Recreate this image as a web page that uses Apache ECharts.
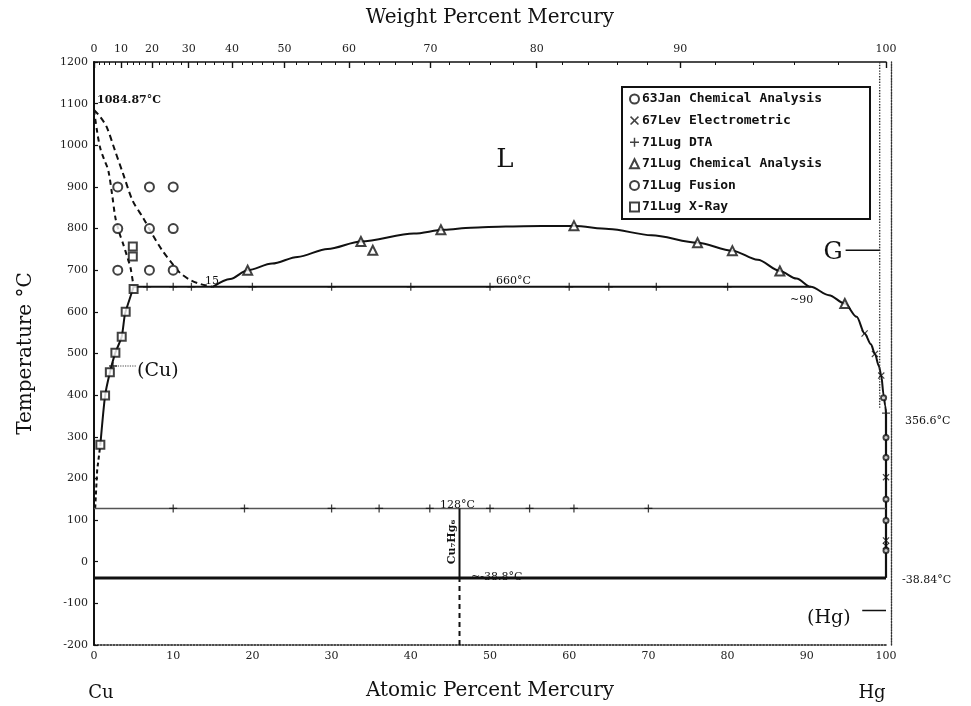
<!DOCTYPE html>
<html><head><meta charset="utf-8">
<script src="https://cdn.jsdelivr.net/npm/echarts@6/dist/echarts.min.js"></script>
<style>html,body{margin:0;padding:0;background:#fff}#c{width:971px;height:706px}</style>
</head><body><div id="c"></div>
<script>
// ---- axes / ticks ----
const atTicks = [0,10,20,30,40,50,60,70,80,90,100];
const tempTicks = [-200,-100,0,100,200,300,400,500,600,700,800,900,1000,1100,1200];
const wtTicks = [0,10,20,30,40,50,60,70,80,90,100];

// ---- phase boundaries (atomic % Hg, °C) ----
const liquidus = [[0,1084.87],[0.8,1068],[1.6,1044],[2.6,990],[3.7,930],[4.9,866],[6.2,826],[7.4,785],[8.6,748],[10,713],[10.9,693],[12.2,676],[13.4,667],[15,660]];
const solidus = [[0,1084.87],[0.4,1032],[0.8,992],[1.3,965],[1.8,940],[2.3,880],[2.7,826],[3.2,790],[3.7,762],[4.2,732],[4.6,707],[5.0,660]];
const solvus = [[0.8,281],[1.4,399],[2.0,454],[2.7,502],[3.5,540],[3.9,594],[4.4,625],[5.0,660]];
const solvusLow = [[0.15,128],[0.4,220],[0.8,281]];
const dome = [[15,660],[17.2,679],[19.4,700],[22.5,716],[25.7,732],[29.5,751],[33.7,769],[40.4,788],[44.2,797],[47.6,802],[52,805],[56.5,806],[60.6,806],[65,799],[70.4,784],[76.2,766],[80.6,747],[83.8,725],[86.6,698],[88.7,680],[90.5,660],[92.8,640],[94.8,620],[96.3,588],[97.3,548],[98.1,522],[98.6,499],[99.1,470],[99.4,447],[99.7,400],[99.9,375],[100,356.6]];
const hgLiquid = [[100,356.6],[100,-38.84]];
const monotectic = [[5.0,660],[90.5,660]];
const peritectic = [[0,128],[100,128]];
const eutectic = [[0,-38.84],[100,-38.84]];
const compoundSolid = [[46.15,-38.84],[46.15,128]];
const compoundDashed = [[46.15,-200],[46.15,-38.84]];
const gasBoundary = [[99.2,1200],[99.2,370]];
const gArrow = [[94.9,748],[99.2,748]];
const hgArrow = [[97.0,-117],[100,-117]];
const cuArrow = [[2.4,470],[5.3,470]];

// ---- experimental points ----
const jan63 = [[99.7,394],[100,298],[100,250],[100,150],[100,99],[100,27]];
const lev67 = [[97.3,548],[98.6,499],[99.4,447],[100,203],[100,51],[100,38]];
const lugDTA = [[6.7,660],[10,660],[12.3,660],[20,660],[30,660],[40,660],[50,660],[60,660],[65,660],[71,660],[80,660],
  [10,128],[19,128],[30,128],[36,128],[42.4,128],[50,128],[55,128],[60.6,128],[70,128],[100,356.6],[2.4,470]];
const lugChem = [[19.4,700],[33.7,769],[35.2,748],[43.8,797],[60.6,807],[76.2,766],[80.6,747],[86.6,698],[94.8,620]];
const lugFusion = [[3,900],[7,900],[10,900],[3,800],[7,800],[10,800],[3,700],[7,700],[10,700]];
const lugXray = [[4.9,757],[4.9,733],[5.0,655],[4.0,600],[3.5,540],[2.7,502],[2.0,455],[1.4,399],[0.8,281]];

const legendNames = ['63Jan Chemical Analysis','67Lev Electrometric','71Lug DTA','71Lug Chemical Analysis','71Lug Fusion','71Lug X-Ray'];

// weight % -> atomic % (Cu 63.546, Hg 200.59)
function atFromWt(w){ const h=w/200.59, c=(100-w)/63.546; return 100*h/(h+c); }
const topMajor = wtTicks.map(atFromWt);
const topMinor = []; for (let w=2; w<100; w+=2){ if (w%10) topMinor.push(atFromWt(w)); }

const INK = '#111';
const SERIF = '"DejaVu Serif", "Liberation Serif", serif';
const X_PATH = 'path://M0,1.2L1.2,0L5,3.8L8.8,0L10,1.2L6.2,5L10,8.8L8.8,10L5,6.2L1.2,10L0,8.8L3.8,5Z';
const PLUS_PATH = 'path://M4.2,0H5.8V4.2H10V5.8H5.8V10H4.2V5.8H0V4.2H4.2Z';

function line(data, opts){
  return Object.assign({type:'line', data, symbol:'none', silent:true, animation:false, z:3,
    lineStyle:{color:INK, width:2}}, opts||{});
}
function pts(name, data, symbol, size, bw){
  return {type:'scatter', name, data, symbol, symbolSize:size, z:6, silent:true,
    itemStyle:{color:INK, borderColor:INK, borderWidth:bw||0}};
}

const chart = echarts.init(document.getElementById('c'), null, {renderer:'canvas'});
chart.setOption({
  animation:false,
  backgroundColor:'#fff',
  grid:{left:94, right:85, top:62, bottom:53},
  xAxis:[
    {type:'value', min:0, max:100, interval:10, position:'bottom',
      name:'Atomic Percent Mercury', nameLocation:'middle', nameGap:36,
      nameTextStyle:{fontFamily:SERIF, fontSize:20, color:INK},
      axisLine:{show:true, onZero:false, lineStyle:{color:INK, width:1.6, type:'dotted'}},
      axisTick:{show:false}, splitLine:{show:false},
      axisLabel:{fontFamily:SERIF, fontSize:11, color:'#222', margin:6, formatter:v=>String(v)}},
    {type:'value', min:0, max:100, position:'top',
      name:'Weight Percent Mercury', nameLocation:'middle', nameGap:34,
      nameTextStyle:{fontFamily:SERIF, fontSize:20, color:INK},
      axisLine:{show:true, onZero:false, lineStyle:{color:INK, width:1.6}},
      axisTick:{show:true, inside:true, length:6, customValues:topMajor, lineStyle:{color:INK, width:1.4}},
      axisLabel:{show:true, customValues:topMajor, fontFamily:SERIF, fontSize:11, color:'#222', margin:7,
        formatter:function(v){ let i=0,b=1e9; topMajor.forEach((p,k)=>{const d=Math.abs(p-v); if(d<b){b=d;i=k;}}); return String(wtTicks[i]); }},
      splitLine:{show:false}},
    {type:'value', min:0, max:100, position:'top',
      axisLine:{show:false, onZero:false},
      axisTick:{show:true, inside:true, length:3, customValues:topMinor, lineStyle:{color:INK, width:1}},
      axisLabel:{show:false}, splitLine:{show:false}}
  ],
  yAxis:[
    {type:'value', min:-200, max:1200, interval:100, position:'left',
      name:'Temperature °C', nameLocation:'middle', nameGap:58, nameRotate:90,
      nameTextStyle:{fontFamily:SERIF, fontSize:20, color:INK},
      axisLine:{show:true, onZero:false, lineStyle:{color:INK, width:2}},
      axisTick:{show:true, inside:true, length:4, lineStyle:{color:INK, width:1.2}},
      axisLabel:{fontFamily:SERIF, fontSize:11, color:'#222', margin:6, formatter:v=>String(v)},
      splitLine:{show:false}},
    {type:'value', min:-200, max:1200, position:'right', offset:5,
      axisLine:{show:true, onZero:false, lineStyle:{color:'#333', width:1.4, type:'dotted'}},
      axisTick:{show:false}, axisLabel:{show:false}, splitLine:{show:false}}
  ],
  legend:{
    data:legendNames, orient:'vertical', left:622, top:87,
    backgroundColor:'#fff', borderColor:INK, borderWidth:2, borderRadius:0,
    padding:[5,4,5,7], itemWidth:9, itemHeight:9, itemGap:7.6, selectedMode:false,
    textStyle:{fontFamily:'"DejaVu Sans Mono", "Liberation Mono", monospace', fontWeight:'bold',
      fontSize:13, color:INK, width:224, lineHeight:14, padding:[0,0,0,-2]}
  },
  series:[
    line(liquidus, {smooth:0.3, lineStyle:{color:INK, width:2, type:[6,4]}}),
    line(solidus, {smooth:0.3, lineStyle:{color:INK, width:2, type:[5,4]}}),
    line(solvus, {smooth:0.2, lineStyle:{color:INK, width:2}}),
    line(solvusLow, {lineStyle:{color:INK, width:2, type:[4,3]}}),
    line(dome, {smooth:0.3, smoothMonotone:'x', lineStyle:{color:INK, width:2}}),
    line(hgLiquid, {lineStyle:{color:INK, width:2.2}}),
    line(monotectic, {lineStyle:{color:INK, width:2}}),
    line(peritectic, {lineStyle:{color:'#555', width:1.5}}),
    line(eutectic, {lineStyle:{color:INK, width:3}}),
    line(compoundSolid, {lineStyle:{color:INK, width:2}}),
    line(compoundDashed, {lineStyle:{color:INK, width:2, type:[5,4]}}),
    line(gasBoundary, {lineStyle:{color:'#333', width:1.4, type:'dotted'}}),
    line(gArrow, {lineStyle:{color:INK, width:1.5}}),
    line(hgArrow, {lineStyle:{color:INK, width:1.5}}),
    line(cuArrow, {lineStyle:{color:'#444', width:1.2, type:'dotted'}}),
    pts(legendNames[0], jan63, 'emptyCircle', 5, 1.2),
    pts(legendNames[1], lev67, X_PATH, 7),
    pts(legendNames[2], lugDTA, PLUS_PATH, 8),
    pts(legendNames[3], lugChem, 'emptyTriangle', 9, 1.4),
    pts(legendNames[4], lugFusion, 'emptyCircle', 9, 1.5),
    pts(legendNames[5], lugXray, 'emptyRect', 8, 1.4)
  ],
  graphic:[
    {type:'text', x:97, y:100, style:{text:'1084.87°C', font:'bold 11px '+SERIF, fill:INK, verticalAlign:'middle'}},
    {type:'text', x:505, y:160, style:{text:'L', font:'26px '+SERIF, fill:INK, align:'center', verticalAlign:'middle'}},
    {type:'text', x:833, y:253, style:{text:'G', font:'24px '+SERIF, fill:INK, align:'center', verticalAlign:'middle'}},
    {type:'text', x:212, y:281, style:{text:'15', font:'11px '+SERIF, fill:INK, align:'center', verticalAlign:'middle'}},
    {type:'text', x:496, y:281, style:{text:'660°C', font:'11px '+SERIF, fill:INK, verticalAlign:'middle'}},
    {type:'text', x:790, y:300, style:{text:'~90', font:'11px '+SERIF, fill:INK, verticalAlign:'middle'}},
    {type:'text', x:137, y:371, style:{text:'(Cu)', font:'19px '+SERIF, fill:INK, verticalAlign:'middle'}},
    {type:'text', x:440, y:505, style:{text:'128°C', font:'11px '+SERIF, fill:INK, verticalAlign:'middle'}},
    {type:'text', x:471, y:577, style:{text:'~-38.8°C', font:'11px '+SERIF, fill:INK, verticalAlign:'middle'}},
    {type:'text', x:905, y:421, style:{text:'356.6°C', font:'11px '+SERIF, fill:INK, verticalAlign:'middle'}},
    {type:'text', x:902, y:580, style:{text:'-38.84°C', font:'11px '+SERIF, fill:INK, verticalAlign:'middle'}},
    {type:'text', x:807, y:618, style:{text:'(Hg)', font:'19px '+SERIF, fill:INK, verticalAlign:'middle'}},
    {type:'text', x:452, y:542, rotation:Math.PI/2, style:{text:'Cu₇Hg₆', font:'bold 11px '+SERIF, fill:INK, align:'center', verticalAlign:'middle'}},
    {type:'text', x:101, y:693, style:{text:'Cu', font:'18px '+SERIF, fill:INK, align:'center', verticalAlign:'middle'}},
    {type:'text', x:872, y:693, style:{text:'Hg', font:'18px '+SERIF, fill:INK, align:'center', verticalAlign:'middle'}}
  ]
});
</script></body></html>
